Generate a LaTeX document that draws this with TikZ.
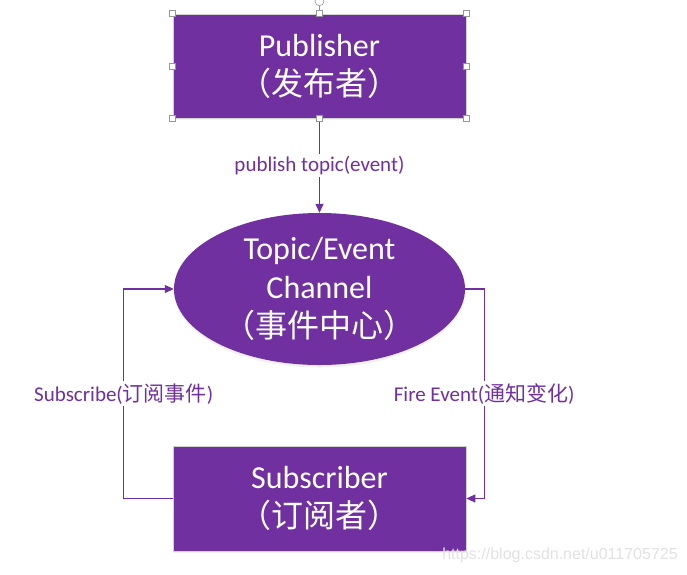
\documentclass[tikz,border=0pt]{standalone}
\usepackage{fontspec}
\setmainfont{Carlito}
\newfontfamily\cjk{Noto Sans CJK SC}
\newfontfamily\wmfont{Liberation Sans}
\usepackage{tikz}
\usetikzlibrary{arrows.meta,positioning,shapes.geometric,shadows}
\definecolor{officepurple}{RGB}{112, 48, 160}
\definecolor{handlegray}{RGB}{150, 150, 150}
\definecolor{wmgray}{RGB}{225, 225, 225}

\begin{document}
\begin{tikzpicture}[x=1pt,y=-1pt,
    block/.style={rectangle, fill=officepurple, draw=gray!35, line width=0.6pt,
        text=white, align=center, minimum width=293pt, inner sep=0pt,
        font=\fontsize{32}{39}\selectfont,
        drop shadow={opacity=0.1, shadow xshift=0pt, shadow yshift=-2pt}},
    hub/.style={ellipse, fill=officepurple, text=white, align=center,
        minimum width=291pt, minimum height=152pt, inner sep=0pt,
        font=\fontsize{32}{39}\selectfont,
        drop shadow={opacity=0.12, shadow xshift=0pt, shadow yshift=-2.5pt}},
    flow/.style={officepurple, line width=1.1pt, -{Triangle[length=9pt,width=8pt]}},
    lbl/.style={fill=white, text=officepurple, inner sep=2pt,
        font=\fontsize{21}{25}\selectfont},
    handle/.style={rectangle, draw=handlegray, fill=white, line width=0.6pt,
        minimum size=6pt, inner sep=0pt}]
    \useasboundingbox (0,0) rectangle (687,574);

    % Nodes
    \node[block, minimum height=104pt] (pub) at (319.5,66)
        {Publisher\\{\cjk （发布者）}};
    \node[hub] (chan) at (319.5,289)
        {Topic/Event\\Channel\\{\cjk （事件中心）}};
    \node[block, minimum height=105pt] (sub) at (319.5,498.5)
        {Subscriber\\{\cjk （订阅者）}};

    % Connectors
    \draw[flow] (pub.south) -- node[lbl] {publish topic(event)} (chan.north);
    \draw[flow] (sub.west) -- ++(-49,0)
        -- node[lbl] {Subscribe({\cjk 订阅事件})} ++(0,-209.5) -- (chan.west);
    \draw[flow] (chan.east) -- ++(19,0)
        -- node[lbl] {Fire Event({\cjk 通知变化})} ++(0,209.5) -- (sub.east);

    % Selection handles
    \draw[handlegray, line width=0.6pt] (pub.north) -- ++(0,-8) coordinate (rot);
    \draw[handlegray, line width=0.6pt] (rot) ++(0,-4.5) circle (4.5pt);
    \foreach \a in {north west,north,north east,east,south east,south,south west,west}
        \node[handle] at (pub.\a) {};

    \node[text=wmgray, font=\wmfont\fontsize{16}{18}\selectfont] (wm) at (560,555)
        {https://blog.csdn.net/u011705725};
\end{tikzpicture}
\end{document}
